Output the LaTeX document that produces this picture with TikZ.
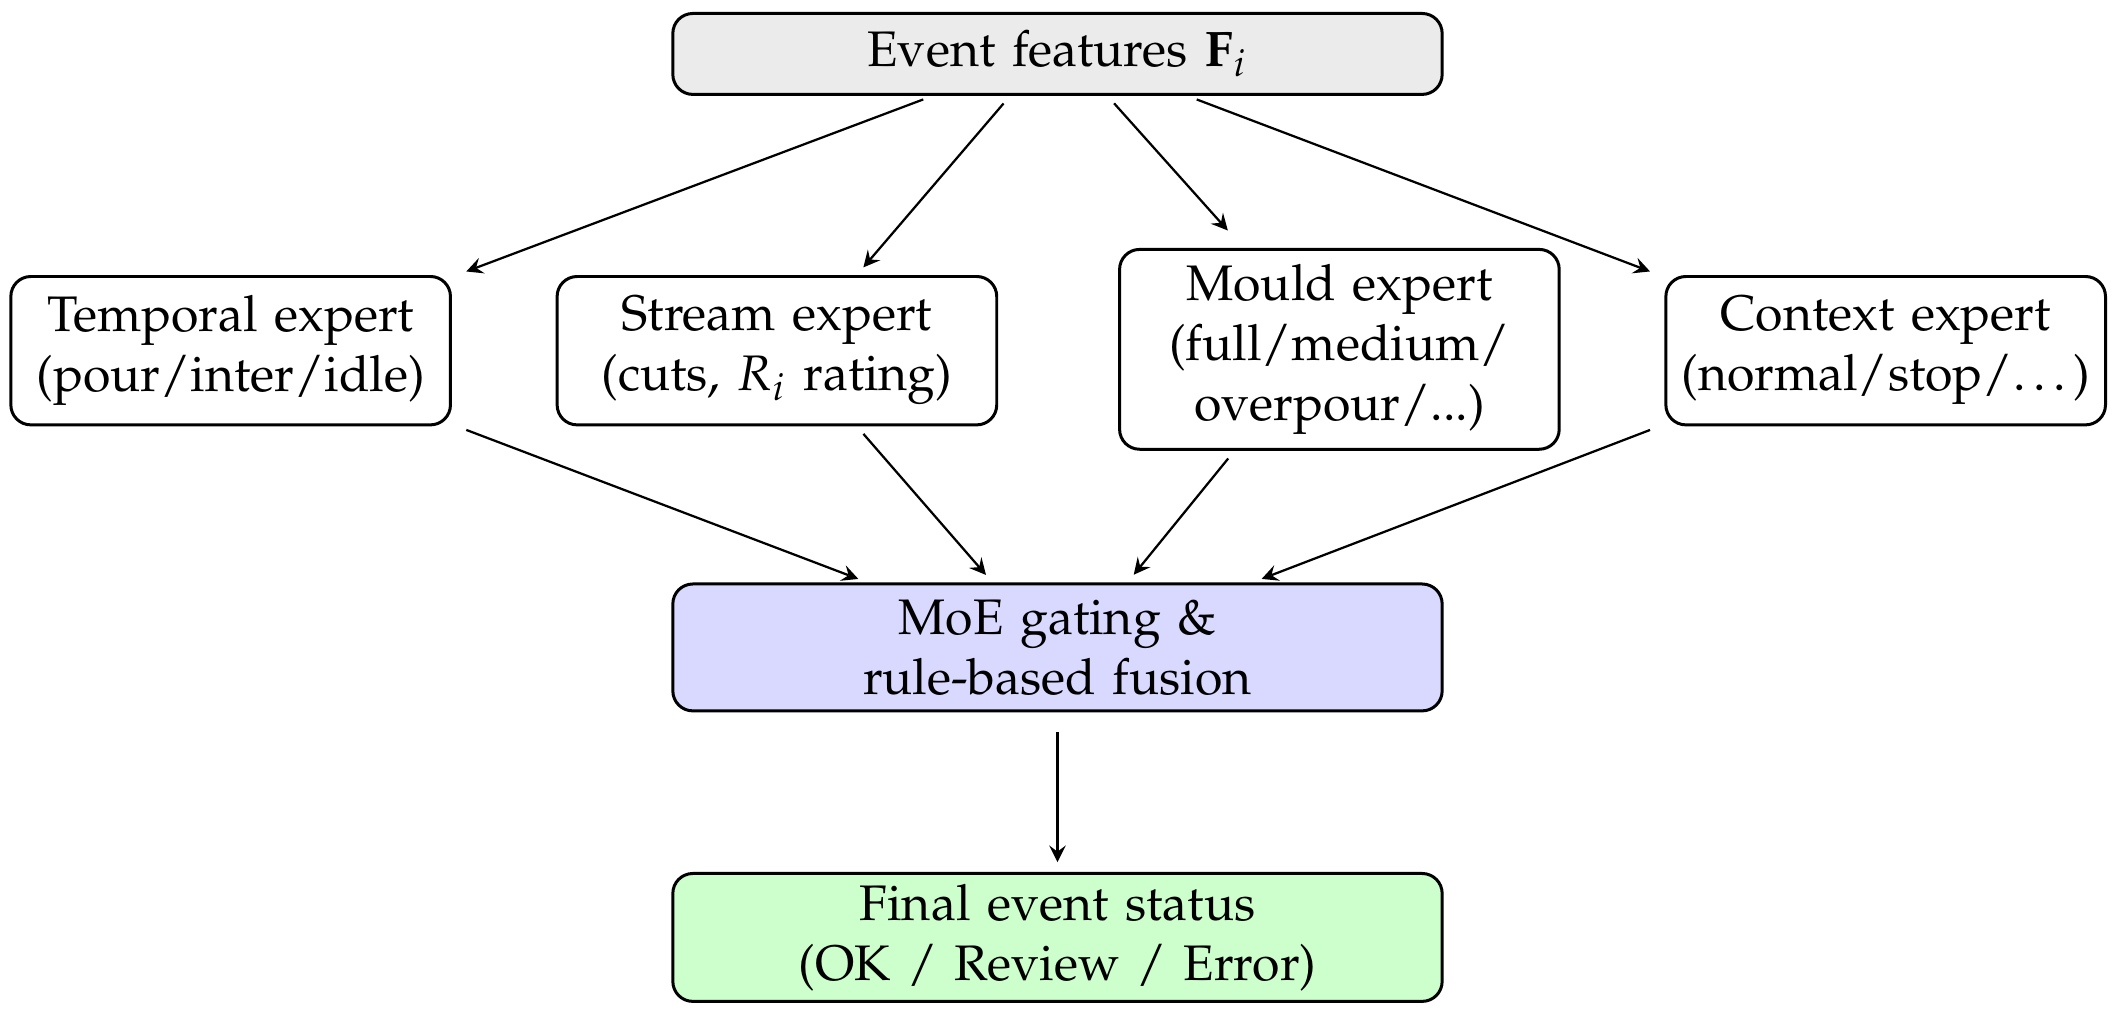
\documentclass[tikz,border=0pt]{standalone}
\usepackage[T1]{fontenc}
\usepackage{mathpazo}
\begin{document}
\begin{tikzpicture}[x=0.27pt,y=-0.27pt,
  box/.style={draw,rounded corners=4pt,line width=0.6pt,align=center,inner sep=2pt,text width=#1},
  arr/.style={->,>=stealth,line width=0.45pt,shorten >=2pt,shorten <=2pt}]
\useasboundingbox (0,0) rectangle (1568,764);
\node[box=150pt,fill=black!8,minimum height=16.2pt,minimum width=153pt] (top) at (784,40) {Event features $\mathbf{F}_i$};
\node[box=84pt,minimum height=29.7pt,minimum width=87pt] (temp) at (171,260) {Temporal expert\\(pour/inter/idle)};
\node[box=84pt,minimum height=29.7pt,minimum width=87pt] (str) at (576,260) {Stream expert\\(cuts, $R_i$ rating)};
\node[box=84pt,minimum height=40pt,minimum width=87.5pt] (mould) at (993,259) {Mould expert\\(full/medium/\\overpour/...)};
\node[box=84pt,minimum height=29.7pt,minimum width=87pt] (ctx) at (1398,260) {Context expert\\(normal/stop/\dots)};
\node[box=150pt,fill=blue!15,minimum height=25.4pt,minimum width=153pt] (moe) at (784,480) {MoE gating \&\\rule-based fusion};
\node[box=150pt,fill=green!20,minimum height=25.6pt,minimum width=153pt] (fin) at (784,695) {Final event status\\(OK / Review / Error)};
\draw[arr] ([xshift=-25pt]top.south) -- ([xshift=1pt]temp.north east);
\draw[arr] ([xshift=-9.5pt]top.south) -- ([xshift=16pt]str.north);
\draw[arr] ([xshift=10pt]top.south) -- ([xshift=-21pt,yshift=2pt]mould.north);
\draw[arr] ([xshift=26pt]top.south) -- ([xshift=-1pt]ctx.north west);
\draw[arr] ([xshift=1pt]temp.south east) -- ([xshift=-38pt]moe.north);
\draw[arr] ([xshift=16pt]str.south) -- ([xshift=-13pt]moe.north);
\draw[arr] ([xshift=-21pt]mould.south) -- ([xshift=14pt]moe.north);
\draw[arr] ([xshift=-1pt]ctx.south west) -- ([xshift=39pt]moe.north);
\draw[arr,shorten <=4pt] (moe) -- (fin);
\end{tikzpicture}
\end{document}
